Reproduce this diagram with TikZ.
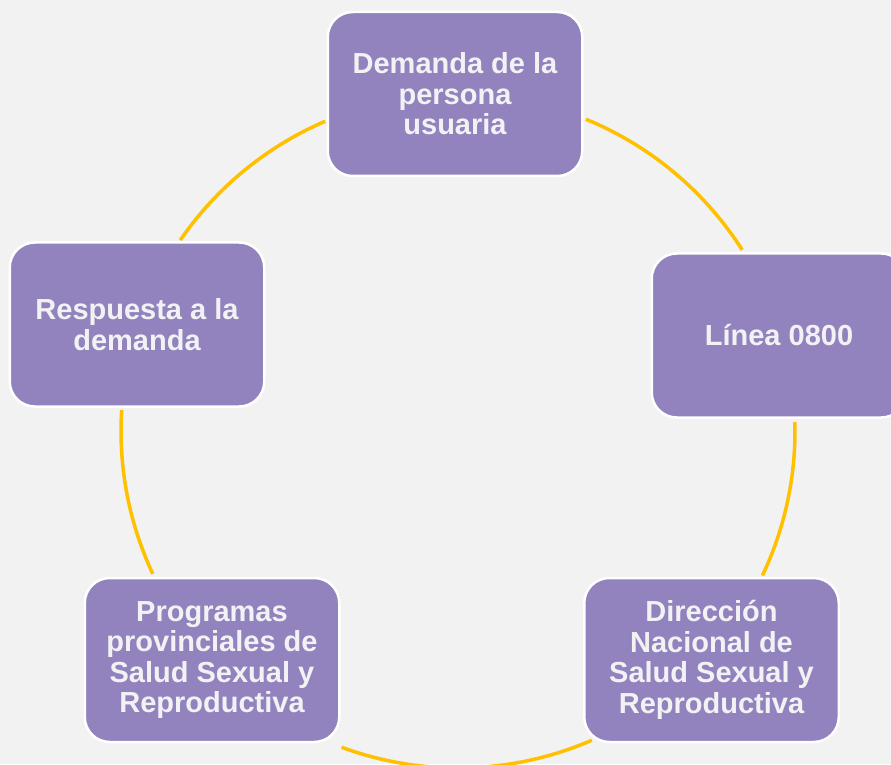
\documentclass[tikz,border=0pt]{standalone}
\usepackage{fontspec}
\setmainfont{Liberation Sans}
\usetikzlibrary{calc}
\definecolor{bgc}{RGB}{242,242,242}
\definecolor{boxc}{RGB}{146,131,190}
\definecolor{txtc}{RGB}{242,242,244}
\definecolor{arcc}{RGB}{255,192,0}
\tikzset{
  cyclebox/.style={draw=white, line width=2.5pt, fill=boxc, rounded corners=25pt,
    minimum width=254.5pt, minimum height=164pt, align=center, text=txtc,
    font=\fontsize{29pt}{30.5pt}\selectfont\bfseries, inner sep=0pt},
  cyclearc/.style={draw=arcc, line width=3.5pt}
}
\begin{document}
\begin{tikzpicture}[x=1pt,y=1pt]
\fill[bgc] (0,0) rectangle (891,764);
\useasboundingbox (0,0) rectangle (891,764);
\coordinate (O) at (458,333);
% arcs
\coordinate (a1) at ($(O)+(113.2:337pt)$);
\coordinate (a2) at ($(O)+(67.7:337pt)$);
\coordinate (a3) at ($(O)+(1.5:337pt)$);
\coordinate (a4) at ($(O)+(-66.6:337pt)$);
\coordinate (a5) at ($(O)+(205.1:337pt)$);
\draw[cyclearc] (a1) arc[start angle=113.2, end angle=145.5, radius=337pt];
\draw[cyclearc] (a2) arc[start angle=67.7, end angle=32.5, radius=337pt];
\draw[cyclearc] (a3) arc[start angle=1.5, end angle=-25.4, radius=337pt];
\draw[cyclearc] (a4) arc[start angle=-66.6, end angle=-110.2, radius=337pt];
\draw[cyclearc] (a5) arc[start angle=205.1, end angle=176.4, radius=337pt];
% boxes
\node[cyclebox] (top) at (455,670) {Demanda de la\\persona\\usuaria};
\node[cyclebox] (right) at (779,428.5) {Línea 0800};
\node[cyclebox] (br) at (711.5,104) {Dirección\\Nacional de\\Salud Sexual y\\Reproductiva};
\node[cyclebox] (bl) at (212,104) {Programas\\provinciales de\\Salud Sexual y\\Reproductiva};
\node[cyclebox] (left) at (137,439.5) {Respuesta a la\\demanda};
\end{tikzpicture}
\end{document}
